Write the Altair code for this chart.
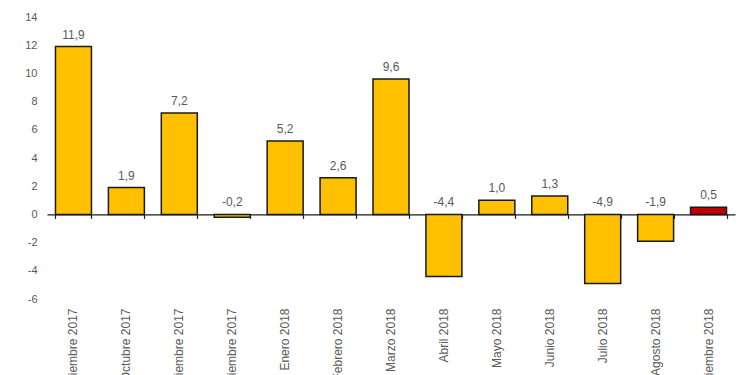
import altair as alt
import pandas as pd

meses = ["Septiembre 2017", "Octubre 2017", "Noviembre 2017", "Diciembre 2017",
         "Enero 2018", "Febrero 2018", "Marzo 2018", "Abril 2018", "Mayo 2018",
         "Junio 2018", "Julio 2018", "Agosto 2018", "Septiembre 2018"]
valores = [11.9, 1.9, 7.2, -0.2, 5.2, 2.6, 9.6, -4.4, 1.0, 1.3, -4.9, -1.9, 0.5]
grupo = ["hist"] * 12 + ["ultimo"]
ticks_y = [-6, -4, -2, 0, 2, 4, 6, 8, 10, 12, 14]

df = pd.DataFrame({
    "mes": meses,
    "valor": valores,
    "grupo": grupo,
    "etiqueta": [f"{v:.1f}".replace(".", ",") for v in valores],
    "pos": [max(v, 0) for v in valores],
})

FONT = "Liberation Sans"
GRAY = "#595959"
H = 282
ymin, ymax = -6, 14
zero_off = -H * (0 - ymin) / (ymax - ymin)

xscale = alt.Scale(paddingInner=0.32, paddingOuter=0.16)
yscale = alt.Scale(domain=[ymin, ymax], nice=False, zero=False)

base = alt.Chart(df)

yaxis = alt.Axis(values=ticks_y, domain=False, ticks=False, grid=False,
                 labelPadding=10, labelFontSize=11, labelFont=FONT,
                 labelColor=GRAY, labelOverlap=False, labelBound=False,
                 labelExpr="'' + datum.value")

bars = base.mark_bar(stroke="#1a1a1a", strokeWidth=1.5).encode(
    x=alt.X("mes:N", sort=meses, scale=xscale, title=None,
            axis=alt.Axis(orient="bottom", domain=False, ticks=False, labelAngle=-90,
                          labelPadding=9, labelFontSize=12, labelFont=FONT,
                          labelColor=GRAY, labelLimit=300)),
    y=alt.Y("valor:Q", scale=yscale, title=None, axis=yaxis),
    color=alt.Color("grupo:N", scale=alt.Scale(domain=["hist", "ultimo"],
                                               range=["#FFC000", "#C00000"]), legend=None),
)

labels = base.mark_text(baseline="middle", dy=-12, fontSize=12, font=FONT, color=GRAY).encode(
    x=alt.X("mes:N", sort=meses, scale=xscale, title=None,
            axis=alt.Axis(orient="bottom", offset=zero_off, labels=False, domain=True,
                          domainColor="#1a1a1a", domainWidth=1.2, ticks=True,
                          tickBand="extent", tickSize=4, tickColor="#1a1a1a",
                          tickWidth=1.2)),
    y=alt.Y("pos:Q", scale=yscale, title=None, axis=yaxis),
    text="etiqueta:N",
)

chart = alt.layer(bars, labels).resolve_axis(x="independent").properties(
    width=688, height=H,
    autosize=alt.AutoSizeParams(type="none"),
    padding={"left": 39, "top": 9, "right": 7, "bottom": 110},
).configure_view(stroke=None)

chart.save("out.html", embed_options={"renderer": "svg", "actions": False})
